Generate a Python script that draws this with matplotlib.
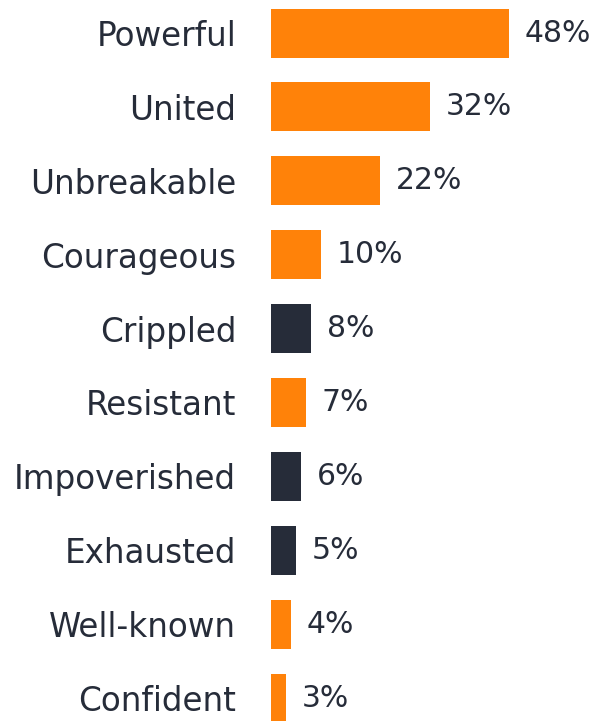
import matplotlib
matplotlib.use('Agg')
import matplotlib.pyplot as plt

# words describing the country, share of respondents (%)
words = ['Powerful', 'United', 'Unbreakable', 'Courageous', 'Crippled',
         'Resistant', 'Impoverished', 'Exhausted', 'Well-known', 'Confident']
shares = [48, 32, 22, 10, 8, 7, 6, 5, 4, 3]
negative = [False, False, False, False, True, False, True, True, False, False]

orange = '#FF8209'
dark = '#262C39'

plt.rcParams['font.family'] = ['DejaVu Sans']

fig = plt.figure(figsize=(5.95, 7.21), dpi=100)
ax = fig.add_axes([271 / 595, 0, 1 - 271 / 595, 1])

pos = list(range(len(words)))
colors = [dark if n else orange for n in negative]
ax.barh(pos, shares, height=0.663, color=colors)

ax.set_xlim(0, 48 * (595 - 271) / 238)
ax.set_ylim(9.31, -0.4466)

for p, v in zip(pos, shares):
    ax.annotate(f'{v}%', xy=(v, p), xytext=(16, 0), textcoords='offset pixels',
                va='center', ha='left', fontsize=21.5, color=dark)

ax.set_yticks(pos)
ax.set_yticklabels(words, fontsize=23.5, color=dark)
ax.tick_params(axis='y', length=0, pad=25)
ax.set_xticks([])
for s in ax.spines.values():
    s.set_visible(False)

fig.savefig('out.png', dpi=100)
